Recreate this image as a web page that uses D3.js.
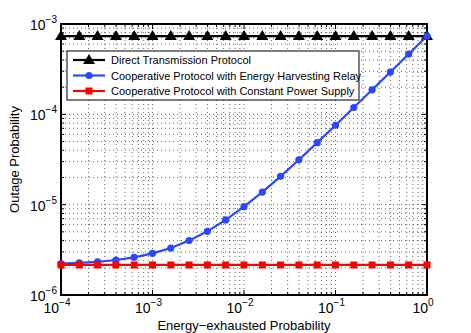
<!DOCTYPE html>
<html>
<head>
<meta charset="utf-8">
<script src="https://cdn.jsdelivr.net/npm/d3@7"></script>
<style>
  body { margin: 0; background: #fff; }
  svg { font-family: "Liberation Sans", Arial, sans-serif; }
</style>
</head>
<body>
<div id="chart"></div>
<script>
// energy-exhausted probability (x axis)
const probs = [1e-4, 1.585e-4, 2.512e-4, 3.981e-4, 6.31e-4, 1e-3, 1.585e-3, 2.512e-3,
  3.981e-3, 6.31e-3, 1e-2, 1.585e-2, 2.512e-2, 3.981e-2, 6.31e-2, 0.1, 0.1585,
  0.2512, 0.3981, 0.631, 1];
// outage probability per protocol
const direct = probs.map(() => 7.36e-4);
const harvest = [2.22e-6, 2.27e-6, 2.33e-6, 2.44e-6, 2.61e-6, 2.89e-6, 3.31e-6, 4.0e-6,
  5.07e-6, 6.78e-6, 9.49e-6, 1.38e-5, 2.06e-5, 3.14e-5, 4.86e-5, 7.57e-5, 1.19e-4,
  1.87e-4, 2.94e-4, 4.65e-4, 7.36e-4];
const constant = probs.map(() => 2.15e-6);
const names = ["Direct Transmission Protocol",
  "Cooperative Protocol with Energy Harvesting Relay",
  "Cooperative Protocol with Constant Power Supply"];
const xTicks = [-4, -3, -2, -1, 0];
const yTicks = [-6, -5, -4, -3];

const margin = { top: 24, right: 44, bottom: 38, left: 61 },
  width = 471 - margin.left - margin.right,
  height = 333 - margin.top - margin.bottom;

const svg = d3.select("#chart").append("svg")
  .attr("width", 471).attr("height", 333)
  .append("g")
  .attr("transform", `translate(${margin.left},${margin.top})`);

const x = d3.scaleLog().domain([1e-4, 1]).range([0, width]);
const y = d3.scaleLog().domain([1e-6, 1e-3]).range([height, 0]);

// all grid positions (major + minor)
const xs = [], ys = [];
for (let e = -4; e <= 0; e++) for (let m = 1; m <= 9; m++) { const v = m * 10 ** e; if (v <= 1) xs.push(v); }
for (let e = -6; e <= -3; e++) for (let m = 1; m <= 9; m++) { const v = m * 10 ** e; if (v <= 1e-3 * 1.0001) ys.push(v); }

const grid = svg.append("g").attr("stroke", "#000").attr("stroke-width", 0.6)
  .attr("stroke-dasharray", "1,3");
grid.selectAll(".gx").data(xs.slice(1, -1)).join("line")
  .attr("x1", d => x(d)).attr("x2", d => x(d)).attr("y1", 0).attr("y2", height);
grid.selectAll(".gy").data(ys.slice(1, -1)).join("line")
  .attr("y1", d => y(d)).attr("y2", d => y(d)).attr("x1", 0).attr("x2", width);

// ticks inside on all four sides
const isMajor = v => Math.abs(Math.log10(v) - Math.round(Math.log10(v))) < 1e-6;
const ticks = svg.append("g").attr("stroke", "#000").attr("stroke-width", 1);
xs.forEach(v => {
  const L = isMajor(v) ? 5 : 3;
  ticks.append("line").attr("x1", x(v)).attr("x2", x(v)).attr("y1", height).attr("y2", height - L);
  ticks.append("line").attr("x1", x(v)).attr("x2", x(v)).attr("y1", 0).attr("y2", L);
});
ys.forEach(v => {
  const L = isMajor(v) ? 5 : 3;
  ticks.append("line").attr("y1", y(v)).attr("y2", y(v)).attr("x1", 0).attr("x2", L);
  ticks.append("line").attr("y1", y(v)).attr("y2", y(v)).attr("x1", width).attr("x2", width - L);
});

svg.append("rect").attr("width", width).attr("height", height)
  .attr("fill", "none").attr("stroke", "#000").attr("stroke-width", 2);

// tick labels
const xl = svg.append("g").selectAll("text").data(xTicks).join("text")
  .attr("x", d => x(10 ** d) - 4).attr("y", height + 18)
  .attr("text-anchor", "middle").attr("font-size", 14);
xl.append("tspan").text("10");
xl.append("tspan").attr("dy", -7).attr("font-size", 10).text(d => d === 0 ? "0" : "\u2212" + (-d));

const yl = svg.append("g").selectAll("text").data(yTicks).join("text")
  .attr("x", -4).attr("y", d => y(10 ** d) + 6)
  .attr("text-anchor", "end").attr("font-size", 14);
yl.append("tspan").text("10");
yl.append("tspan").attr("dy", -7).attr("font-size", 10).text(d => "\u2212" + (-d));

// axis titles
svg.append("text").attr("x", width / 2).attr("y", height + 35)
  .attr("text-anchor", "middle").attr("font-size", 13).text("Energy\u2212exhausted Probability");
svg.append("text").attr("transform", `translate(${-42},${height / 2}) rotate(-90)`)
  .attr("text-anchor", "middle").attr("font-size", 13).text("Outage Probability");

// series
const series = [
  { vals: direct, color: "#000", mark: "triangle" },
  { vals: harvest, color: "#2a46ff", mark: "circle" },
  { vals: constant, color: "#ff0000", mark: "square" }
];
const line = d3.line().x(d => x(d[0])).y(d => y(d[1]));
const drawMarker = (g, mark, color, cx, cy) => {
  if (mark === "triangle") {
    g.append("path").attr("d", `M${cx},${cy - 6}L${cx + 6},${cy + 4}L${cx - 6},${cy + 4}Z`).attr("fill", color);
  } else if (mark === "circle") {
    g.append("circle").attr("cx", cx).attr("cy", cy).attr("r", 3.6).attr("fill", color);
  } else {
    g.append("rect").attr("x", cx - 3.5).attr("y", cy - 3.5).attr("width", 7).attr("height", 7)
      .attr("fill", color);
  }
};
series.forEach(s => {
  const pts = probs.map((p, i) => [p, s.vals[i]]);
  svg.append("path").datum(pts).attr("d", line).attr("fill", "none")
    .attr("stroke", s.color).attr("stroke-width", 2.2);
  const g = svg.append("g");
  pts.forEach(d => drawMarker(g, s.mark, s.color, x(d[0]), y(d[1])));
});

// legend
const lg = svg.append("g").attr("transform", "translate(6,27)");
lg.append("rect").attr("width", 292).attr("height", 49)
  .attr("fill", "#fff").attr("stroke", "#000").attr("stroke-width", 1);
series.forEach((s, i) => {
  const yy = 9 + i * 15.5;
  lg.append("line").attr("x1", 6).attr("x2", 38).attr("y1", yy).attr("y2", yy)
    .attr("stroke", s.color).attr("stroke-width", 2.2);
  drawMarker(lg, s.mark, s.color, 22, yy);
  lg.append("text").attr("x", 44).attr("y", yy + 4).attr("font-size", 11).text(names[i]);
});
</script>
</body>
</html>
